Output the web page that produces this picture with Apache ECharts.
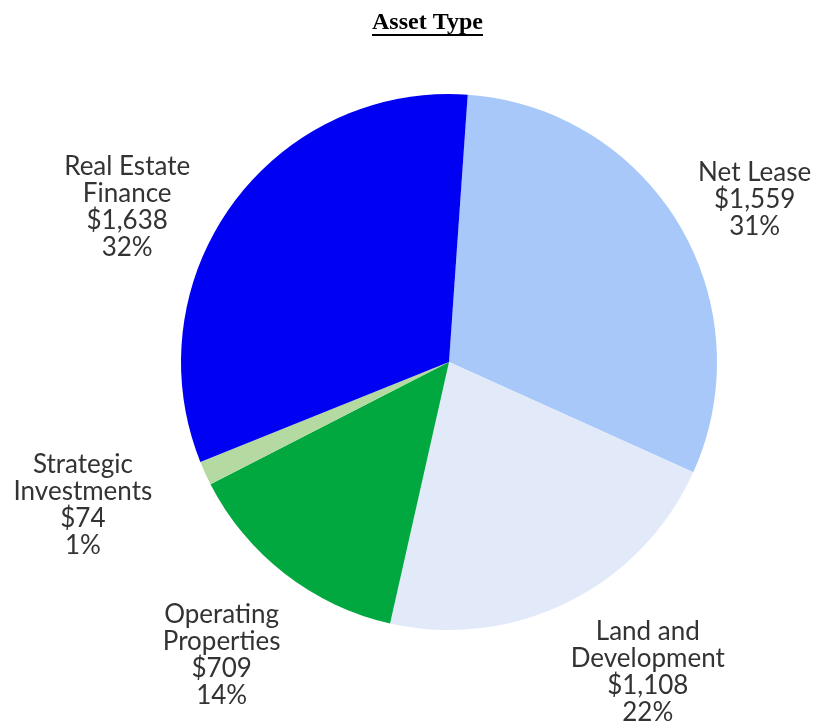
<!DOCTYPE html>
<html>
<head>
<meta charset="utf-8">
<script src="https://cdn.jsdelivr.net/npm/echarts@6/dist/echarts.min.js"></script>
<style>
html,body{margin:0;padding:0;background:#fff;}
#chart{width:817px;height:726px;}
</style>
</head>
<body>
<div id="chart"></div>
<script>
const categories = ['Net Lease', 'Land and\nDevelopment', 'Operating\nProperties', 'Strategic\nInvestments', 'Real Estate\nFinance'];
const values = [1559, 1108, 709, 74, 1638];
const colors = ['#a9c8fa', '#e2eafa', '#00a83f', '#b4daa2', '#0000f2'];
const titleText = 'Asset Type';

// label placement (style): angular nudge (deg) and distance from pie centre (px)
const labelTurn = [2.9, -6.2, 0, 3.2, -10.4];
const labelDist = [346, 368, 371, 393, 357];
const startOffset = 4; // degrees clockwise from 12 o'clock
const cx = 449, cy = 362, R = 268;
const total = values.reduce((a, b) => a + b, 0);
const cum = [];
values.reduce((acc, v, i) => { cum[i] = acc; return acc + v; }, 0);

const chart = echarts.init(document.getElementById('chart'));
chart.setOption({
  animation: false,
  backgroundColor: '#ffffff',
  title: {
    text: titleText,
    left: 372,
    top: 11,
    padding: 0,
    textStyle: { fontFamily: 'Liberation Serif', fontWeight: 'bold', fontSize: 24, color: '#000' }
  },
  graphic: [{
    type: 'rect',
    shape: { x: 372, y: 34, width: 111, height: 2 },
    style: { fill: '#000' }
  }],
  series: [{
    type: 'pie',
    center: [cx, cy],
    radius: [0, R],
    startAngle: 90 - startOffset,
    clockwise: true,
    avoidLabelOverlap: false,
    percentPrecision: 0,
    itemStyle: { borderWidth: 0 },
    label: {
      show: true,
      position: 'outside',
      fontFamily: 'Lato',
      fontSize: 26,
      lineHeight: 27,
      color: '#333',
      formatter: p => p.name + '\n$' + p.value.toLocaleString('en-US') + '\n' + p.percent + '%'
    },
    labelLine: { show: false },
    labelLayout: function (params) {
      const i = params.dataIndex;
      const midDeg = startOffset + (cum[i] + values[i] / 2) / total * 360 + labelTurn[i];
      const a = midDeg * Math.PI / 180;
      const d = labelDist[i];
      return { x: cx + d * Math.sin(a), y: cy - d * Math.cos(a), align: 'center', verticalAlign: 'middle' };
    },
    data: categories.map((c, i) => ({ name: c, value: values[i], itemStyle: { color: colors[i] } }))
  }]
});
</script>
</body>
</html>
